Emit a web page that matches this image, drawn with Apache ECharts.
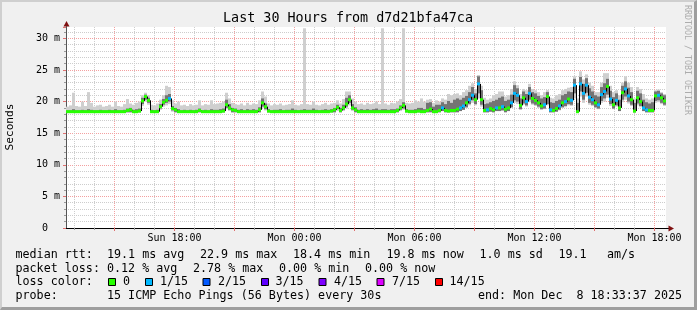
<!DOCTYPE html>
<html><head><meta charset="utf-8">
<script src="https://cdn.jsdelivr.net/npm/echarts@6/dist/echarts.min.js"></script>
<style>
html,body{margin:0;padding:0;background:#f0f0f0;overflow:hidden;}
#frame{position:absolute;left:0;top:0;width:697px;height:310px;box-sizing:border-box;border-top:2px solid #cfcfcf;border-left:2px solid #cfcfcf;border-right:3px solid #9e9e9e;border-bottom:3px solid #9e9e9e;background:#f0f0f0;}
#chart{position:absolute;left:0;top:0;width:697px;height:310px;}
</style></head>
<body><div id="frame"></div><div id="chart"></div>
<script>
// ---- data (hours since Sun 00:00; one sample every 9 minutes) ----
const startHour = 12.575;
const stepHours = 0.15;
const spanHours = 30;
const yMax = 31.8;

const minorHourTicks = [13,14,16,17,19,20,22,23,25,26,28,29,31,32,34,35,37,38,40,41];
const majorHourTicks = [15,18,21,24,27,30,33,36,39,42];
const labelHours = [18,24,30,36,42];
const labelTexts = ['Sun 18:00','Mon 00:00','Mon 06:00','Mon 12:00','Mon 18:00'];

const lossLabels = ['0','1/15','2/15','3/15','4/15','7/15','14/15'];
const lossColors = ['#26ff00','#00b8ff','#0059ff','#5e00ff','#7e00ff','#dd00ff','#ff0000'];

const pingMedian = [
 18.4,18.4,18.4,18.4,18.4,18.4,18.4,18.4,18.4,18.4,
 18.4,18.4,18.4,18.4,18.4,18.4,18.4,18.4,18.4,18.4,
 18.6,18.7,18.4,18.4,18.5,20.1,20.8,20.2,18.4,18.4,
 18.4,19.2,19.9,20.2,20.5,18.9,18.7,18.4,18.4,18.4,
 18.4,18.4,18.4,18.4,18.6,18.4,18.4,18.4,18.4,18.4,
 18.4,18.4,18.5,19.5,19.0,18.7,18.6,18.4,18.4,18.4,
 18.4,18.4,18.4,18.4,18.7,19.8,19.2,18.5,18.4,18.4,
 18.4,18.4,18.4,18.4,18.4,18.4,18.4,18.4,18.4,18.4,
 18.4,18.4,18.4,18.4,18.4,18.4,18.4,18.4,18.5,18.7,
 19.1,18.6,19.0,19.6,20.3,19.0,18.7,18.4,18.4,18.4,
 18.4,18.4,18.4,18.4,18.4,18.4,18.4,18.4,18.4,18.4,
 18.6,19.0,19.4,18.5,18.4,18.4,18.4,18.5,18.4,18.4,
 18.6,18.8,18.4,18.4,18.6,19.0,18.6,18.5,18.6,18.6,
 18.8,19.0,19.3,19.8,20.3,21.0,20.3,22.8,20.3,18.6,
 18.7,18.9,18.7,19.0,19.0,19.2,18.8,19.0,19.8,21.3,
 21.0,19.4,20.6,20.0,21.3,20.5,20.2,19.8,19.3,19.5,
 20.8,18.7,18.6,18.9,19.3,19.8,20.0,20.4,20.2,22.6,
 18.4,22.8,21.3,22.6,20.7,20.3,19.8,19.5,21.1,21.6,
 22.4,20.4,19.5,20.2,19.0,21.4,22.0,20.9,20.3,18.5,
 20.6,20.0,19.0,18.7,18.6,18.6,20.9,21.0,20.6,20.1
];

const lossCount = [
 0,0,0,0,0,0,0,0,0,0, 0,0,0,0,0,0,0,0,0,0, 0,0,0,0,0,0,0,0,0,0,
 0,0,0,0,1,0,0,0,0,0,
 0,0,0,0,0,0,0,0,0,0, 0,0,0,0,0,0,0,0,0,0, 0,0,0,0,0,0,0,0,0,0, 0,0,0,0,0,0,0,0,0,0,
 0,0,0,0,0,0,0,0,0,0, 0,0,0,0,0,0,0,0,0,0, 0,0,0,0,0,0,0,0,0,0, 0,0,0,0,0,0,0,0,0,0,
 0,0,0,0,0,1,0,0,0,0,
 0,1,1,0,1,1,0,1,0,0,
 1,0,0,1,0,1,0,0,1,1,
 1,0,0,1,1,0,0,0,0,1,
 0,1,0,0,1,0,1,0,1,1,
 0,1,1,1,1,1,0,1,1,1,
 0,1,0,1,0,0,1,1,0,0,
 0,0,1,1,0,0,0,1,0,0
];

const pingMin = [
 18.3,18.3,18.3,18.3,18.3,18.3,18.3,18.3,18.3,18.3,
 18.3,18.3,18.3,18.3,18.3,18.3,18.3,18.3,18.3,18.3,
 18.3,18.3,18.3,18.3,18.3,19.3,20.0,19.5,18.3,18.3,
 18.3,18.7,19.2,19.4,19.6,18.4,18.3,18.3,18.3,18.3,
 18.3,18.3,18.3,18.3,18.3,18.3,18.3,18.3,18.3,18.3,
 18.3,18.3,18.3,18.8,18.5,18.3,18.3,18.3,18.3,18.3,
 18.3,18.3,18.3,18.3,18.3,19.0,18.6,18.3,18.3,18.3,
 18.3,18.3,18.3,18.3,18.3,18.3,18.3,18.3,18.3,18.3,
 18.3,18.3,18.3,18.3,18.3,18.3,18.3,18.3,18.3,18.3,
 18.5,18.3,18.5,18.9,19.4,18.5,18.3,18.3,18.3,18.3,
 18.3,18.3,18.3,18.3,18.3,18.3,18.3,18.3,18.3,18.3,
 18.3,18.5,18.7,18.3,18.3,18.3,18.3,18.3,18.3,18.3,
 18.3,18.4,18.3,18.3,18.3,18.5,18.3,18.3,18.3,18.3,
 18.4,18.5,18.7,19.0,19.4,19.8,19.4,20.5,19.2,18.3,
 18.3,18.4,18.3,18.5,18.5,18.6,18.4,18.5,19.0,19.8,
 19.6,18.7,19.5,19.2,19.9,19.5,19.3,19.0,18.7,18.8,
 19.4,18.3,18.3,18.4,18.6,19.0,19.1,19.4,19.3,20.5,
 18.3,20.8,19.8,20.8,19.5,19.3,19.0,18.8,19.8,20.0,
 20.6,19.3,18.8,19.2,18.5,19.9,20.3,19.7,19.3,18.3,
 19.4,19.1,18.5,18.3,18.3,18.3,19.8,19.9,19.6,19.3
];

const pingMax = [
 19.2,19.4,21.4,19.3,19.2,20.0,19.3,21.5,19.8,19.2,
 19.4,19.5,19.2,19.3,19.5,19.2,20.0,19.3,19.2,19.6,
 20.4,19.7,19.5,19.8,20.0,21.0,21.4,21.0,19.5,19.4,
 19.7,20.3,21.0,22.5,22.3,20.2,19.7,20.0,19.4,19.5,
 19.3,19.6,19.4,19.5,20.2,19.4,19.6,19.5,20.2,19.6,
 19.7,19.8,20.0,21.4,20.5,19.8,19.6,19.5,19.7,19.4,
 19.8,19.5,19.7,19.6,20.2,21.6,20.8,19.7,19.4,19.6,
 19.5,19.7,19.4,19.5,19.6,20.2,19.5,19.4,19.6,31.6,
 19.6,19.5,20.0,19.5,19.4,19.6,19.8,19.5,19.7,19.8,
 20.2,19.7,20.4,21.6,21.6,20.5,20.0,19.6,19.7,19.5,
 19.8,19.6,19.7,20.0,19.6,31.6,19.7,19.5,19.8,19.7,
 20.0,20.4,31.6,19.8,19.7,19.8,20.2,20.0,20.5,20.0,
 20.3,20.4,19.8,20.2,20.0,20.5,20.3,21.2,21.0,21.2,
 21.3,21.0,21.5,21.8,22.5,22.9,22.0,24.2,22.5,20.6,
 20.3,20.5,21.0,21.2,21.6,21.6,20.8,21.0,22.0,23.2,
 22.6,21.2,22.0,21.8,22.8,22.0,21.8,21.5,21.0,21.5,
 21.8,20.6,20.5,21.0,21.2,21.8,22.0,22.2,22.3,24.0,
 20.5,24.8,23.5,24.3,23.0,22.5,21.5,21.5,23.0,24.5,
 24.5,22.5,21.5,21.8,21.0,23.0,24.0,23.0,22.3,20.5,
 22.3,22.0,21.2,20.5,20.3,20.5,21.8,21.9,21.5,21.2
];

const coreLo = [
 18.3,18.3,18.3,18.3,18.3,18.3,18.3,18.3,18.3,18.3,
 18.3,18.3,18.3,18.3,18.3,18.3,18.3,18.3,18.3,18.3,
 18.3,18.3,18.3,18.3,18.3,19.6,20.3,19.8,18.3,18.3,
 18.3,18.9,19.5,19.8,20.0,18.6,18.3,18.3,18.3,18.3,
 18.3,18.3,18.3,18.3,18.3,18.3,18.3,18.3,18.3,18.3,
 18.3,18.3,18.3,19.0,18.7,18.3,18.3,18.3,18.3,18.3,
 18.3,18.3,18.3,18.3,18.3,19.2,18.8,18.3,18.3,18.3,
 18.3,18.3,18.3,18.3,18.3,18.3,18.3,18.3,18.3,18.3,
 18.3,18.3,18.3,18.3,18.3,18.3,18.3,18.3,18.3,18.3,
 18.8,18.3,18.7,19.2,19.8,18.7,18.3,18.3,18.3,18.3,
 18.3,18.3,18.3,18.3,18.3,18.3,18.3,18.3,18.3,18.3,
 18.3,18.7,18.9,18.3,18.3,18.3,18.3,18.3,18.3,18.3,
 18.3,18.3,18.3,18.3,18.3,18.5,18.3,18.3,18.3,18.3,
 18.3,18.5,18.7,19.1,19.6,20.2,19.6,21.3,19.5,18.3,
 18.3,18.4,18.3,18.5,18.5,18.6,18.3,18.5,19.1,20.2,
 20.0,18.8,19.7,19.4,20.3,19.7,19.5,19.2,18.8,18.9,
 19.6,18.3,18.3,18.4,18.7,19.1,19.3,19.6,19.5,21.3,
 18.3,21.6,20.3,21.4,19.8,19.5,19.1,18.9,20.1,20.5,
 21.1,19.6,18.9,19.4,18.5,20.3,20.8,20.0,19.5,18.3,
 19.7,19.3,18.5,18.3,18.3,18.3,20.1,20.2,19.8,19.5
];

const coreHi = [
 18.6,18.6,18.8,18.6,18.6,18.7,18.6,18.8,18.7,18.6,
 18.6,18.7,18.6,18.6,18.7,18.6,18.8,18.6,18.6,18.7,
 18.9,19.0,18.7,18.8,18.9,20.6,21.1,20.6,18.7,18.6,
 18.7,19.6,20.4,21.0,21.2,19.3,19.0,18.8,18.6,18.7,
 18.6,18.7,18.6,18.7,18.9,18.6,18.7,18.6,18.8,18.7,
 18.7,18.8,18.9,20.3,19.6,19.0,18.9,18.7,18.8,18.6,
 18.8,18.7,18.8,18.7,19.1,20.5,19.7,18.8,18.6,18.7,
 18.7,18.8,18.6,18.7,18.7,18.9,18.7,18.6,18.7,18.8,
 18.7,18.7,18.9,18.7,18.6,18.7,18.8,18.7,18.8,19.0,
 19.5,19.0,19.5,20.6,21.0,19.6,19.1,18.7,18.8,18.7,
 18.8,18.7,18.8,18.9,18.7,18.8,18.8,18.7,18.8,18.8,
 18.9,19.4,19.9,18.8,18.7,18.7,18.8,19.0,19.0,18.8,
 19.8,19.9,19.2,19.5,19.5,19.9,19.6,20.1,19.8,20.3,
 20.5,20.3,20.6,20.9,21.5,22.3,21.3,24.0,21.8,19.6,
 19.7,19.9,20.1,20.3,20.6,20.8,20.1,20.3,21.1,22.6,
 22.1,20.5,21.6,21.2,22.3,21.5,21.3,20.9,20.5,20.7,
 21.5,19.9,19.8,20.1,20.3,21.0,21.2,21.6,21.5,23.6,
 19.8,23.9,22.8,23.7,22.1,21.6,21.0,20.8,22.3,22.9,
 23.6,21.7,20.7,21.3,20.3,22.5,23.2,22.2,21.5,19.8,
 21.7,21.3,20.3,19.9,19.7,19.9,21.6,21.7,21.3,21.0
];

// ---- layout / style ----
const MONO = '"DejaVu Sans Mono", monospace';
const G = {left: 66, top: 27, width: 600, height: 201};

const smokeData = pingMedian.map((m, i) => [startHour + i * stepHours, pingMin[i], pingMax[i], coreLo[i], coreHi[i]]);
const bandData = pingMedian.map((m, i) => [startHour + i * stepHours, m, lossCount[i]]);
const joinData = pingMedian.map((m, i) => [startHour + i * stepHours, m, i > 0 ? pingMedian[i - 1] : m]);

function renderSmoke(params, api) {
  const t0 = api.value(0), t1 = t0 + stepHours;
  const a = api.coord([t0, api.value(2)]), b = api.coord([t1, api.value(1)]);
  const c = api.coord([t0, api.value(4)]), d = api.coord([t1, api.value(3)]);
  return {type: 'group', children: [
    {type: 'rect', shape: {x: a[0], y: a[1], width: b[0] - a[0], height: b[1] - a[1]}, style: {fill: '#cfcfcf'}},
    {type: 'rect', shape: {x: c[0], y: c[1], width: d[0] - c[0], height: d[1] - c[1]}, style: {fill: '#747474'}}
  ]};
}
function renderJoin(params, api) {
  if (params.dataIndex === 0) return null;
  const t = api.value(0);
  const p = api.coord([t, api.value(1)]), q = api.coord([t, api.value(2)]);
  if (Math.abs(p[1] - q[1]) < 0.5) return null;
  const x = Math.round(p[0]) + 0.5;
  return {type: 'line', shape: {x1: x, y1: q[1], x2: x, y2: p[1]}, style: {stroke: '#000', lineWidth: 1}};
}
function renderBand(params, api) {
  const t0 = api.value(0);
  const a = api.coord([t0, api.value(1)]), b = api.coord([t0 + stepHours, api.value(1)]);
  return {type: 'rect', shape: {x: a[0], y: a[1] - 1.5, width: b[0] - a[0], height: 3}, style: {fill: lossColors[api.value(2)]}};
}

function txt(x, y, s, size, extra) {
  return Object.assign({type: 'text', x: x, y: y, silent: true,
    style: Object.assign({text: s, font: size + 'px ' + MONO, fill: '#000', align: 'left', verticalAlign: 'middle'}, (extra && extra.style) || {})},
    extra ? {rotation: extra.rotation || 0} : {});
}

const graphics = [];
graphics.push(txt(348, 19, 'Last 30 Hours from d7d21bfa47ca', 13.4, {style: {align: 'center'}}));
graphics.push(txt(10.5, 127, 'Seconds', 11.2, {rotation: Math.PI / 2, style: {align: 'center'}}));
graphics.push(txt(687.5, 60, 'RRDTOOL / TOBI OETIKER', 8.3, {rotation: -Math.PI / 2, style: {align: 'center', fill: '#acacac'}}));
// axis arrows
graphics.push({type: 'line', silent: true, shape: {x1: G.left + 0.5, y1: 23, x2: G.left + 0.5, y2: G.top}, style: {stroke: '#666', lineWidth: 1}});
graphics.push({type: 'polygon', silent: true, shape: {points: [[G.left + 0.5, 21], [G.left - 2.5, 26.5], [G.left + 3.5, 26.5]]}, style: {fill: '#7f1010'}});
graphics.push({type: 'line', silent: true, shape: {x1: G.left + G.width, y1: 228.5, x2: G.left + G.width + 3, y2: 228.5}, style: {stroke: '#000', lineWidth: 1}});
graphics.push({type: 'polygon', silent: true, shape: {points: [[674, 228.5], [668.5, 225.5], [668.5, 231.5]]}, style: {fill: '#7f1010'}});

// legend rows
const L = 11.7;
const rows = [254.5, 268.5, 282, 296.3];
[['median rtt:', 15.5], ['19.1 ms avg', 107], ['22.9 ms max', 200], ['18.4 ms min', 293], ['19.8 ms now', 386.5], ['1.0 ms sd', 479.5], ['19.1', 558.5], ['am/s', 607]]
  .forEach(p => graphics.push(txt(p[1], rows[0], p[0], L)));
[['packet loss:', 15.5], ['0.12 % avg', 107], ['2.78 % max', 193], ['0.00 % min', 279], ['0.00 % now', 365]]
  .forEach(p => graphics.push(txt(p[1], rows[1], p[0], L)));
graphics.push(txt(15.5, rows[2], 'loss color:', L));
const boxX = [108.5, 145.5, 203, 261.5, 319, 377, 435.5];
const lblX = [123, 160, 218, 275.5, 334, 392, 449.5];
lossLabels.forEach((s, k) => {
  graphics.push({type: 'rect', silent: true, shape: {x: boxX[k], y: 278.5, width: 7, height: 7}, style: {fill: lossColors[k], stroke: '#000', lineWidth: 1}});
  graphics.push(txt(lblX[k], rows[2], s, L));
});
graphics.push(txt(15.5, rows[3], 'probe:', L));
graphics.push(txt(107, rows[3], '15 ICMP Echo Pings (56 Bytes) every 30s', L));
graphics.push(txt(478, rows[3], 'end: Mon Dec  8 18:33:37 2025', L));

const minorGrid = {color: '#cdcdcd', type: [1, 1], width: 1};
const majorGrid = {color: '#f3a0a0', type: [1, 1], width: 1};

const option = {
  animation: false,
  backgroundColor: 'transparent',
  grid: Object.assign({show: true, backgroundColor: '#ffffff', borderWidth: 0}, G),
  xAxis: [
    {type: 'value', min: startHour, max: startHour + spanHours, position: 'bottom',
     axisLine: {show: true, onZero: false, lineStyle: {color: '#000', width: 1}},
     axisTick: {show: true, customValues: minorHourTicks, length: 2, lineStyle: {color: '#9a9a9a'}},
     axisLabel: {show: false},
     splitLine: {show: true, lineStyle: minorGrid}},
    {type: 'value', min: startHour, max: startHour + spanHours, position: 'bottom',
     axisLine: {show: false, onZero: false},
     axisTick: {show: true, customValues: majorHourTicks, length: 3, lineStyle: {color: '#e07070'}},
     axisLabel: {show: true, customValues: labelHours, margin: 5, color: '#000', fontFamily: MONO, fontSize: 10,
                 formatter: v => labelTexts[labelHours.indexOf(Math.round(v))] || ''},
     splitLine: {show: true, lineStyle: majorGrid}}
  ],
  yAxis: [
    {type: 'value', min: 0, max: yMax, interval: 1, position: 'left',
     axisLine: {show: true, onZero: false, lineStyle: {color: '#555', width: 1}},
     axisTick: {show: true, length: 2, lineStyle: {color: '#9a9a9a'}},
     axisLabel: {show: false},
     splitLine: {show: true, showMaxLine: false, lineStyle: minorGrid}},
    {type: 'value', min: 0, max: yMax, interval: 5, position: 'left',
     axisLine: {show: false, onZero: false},
     axisTick: {show: true, length: 3, lineStyle: {color: '#e07070'}},
     axisLabel: {show: true, margin: 6, color: '#000', fontFamily: MONO, fontSize: 10,
                 formatter: v => (v === 0 ? '0  ' : (Math.abs(v % 5) < 1e-9 ? v + ' m' : ''))},
     splitLine: {show: true, showMaxLine: false, lineStyle: majorGrid}}
  ],
  series: [
    {type: 'custom', name: 'smoke', xAxisIndex: 0, yAxisIndex: 0, data: smokeData, renderItem: renderSmoke, z: 3, silent: true, encode: {x: 0, y: [1, 2]}},
    {type: 'custom', name: 'median-line', xAxisIndex: 0, yAxisIndex: 0, data: joinData, renderItem: renderJoin, z: 4, silent: true, encode: {x: 0, y: 1}},
    {type: 'custom', name: 'median', xAxisIndex: 0, yAxisIndex: 0, data: bandData, renderItem: renderBand, z: 5, silent: true, encode: {x: 0, y: 1}}
  ],
  graphic: graphics
};

const chart = echarts.init(document.getElementById('chart'), null, {renderer: 'canvas'});
chart.setOption(option);
</script>
</body></html>
